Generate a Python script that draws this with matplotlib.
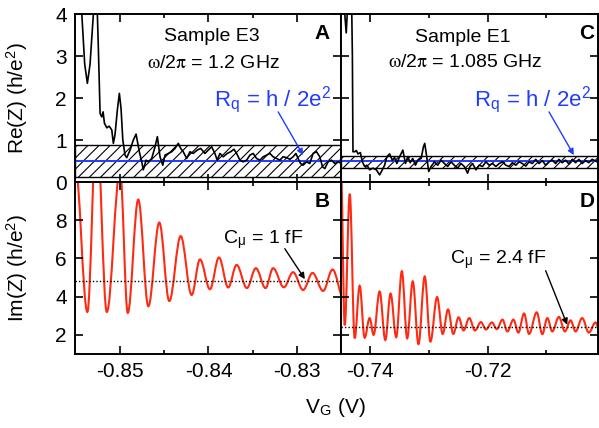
import matplotlib
matplotlib.use('Agg')
import matplotlib.pyplot as plt
from matplotlib.path import Path
from matplotlib.patches import PathPatch

plt.rcParams['font.family'] = ['Liberation Sans', 'DejaVu Sans']
plt.rcParams['mathtext.fontset'] = 'stix'
plt.rcParams['axes.unicode_minus'] = False
plt.rcParams['hatch.linewidth'] = 0.8

# ---- panel A : Re(Z), sample E3
vg_a = [-0.8551, -0.85433, -0.85400, -0.85370, -0.85340, -0.85302, -0.85283, -0.85271,
        -0.85245, -0.85226, -0.85207, -0.85192, -0.85177, -0.85150, -0.85124, -0.85094,
        -0.85076, -0.85057, -0.85031, -0.85008, -0.84989, -0.84969, -0.84944, -0.84924,
        -0.84887, -0.84850, -0.84819, -0.84782, -0.84755, -0.84737, -0.84706, -0.84680,
        -0.84642, -0.84604, -0.84578, -0.84548, -0.84517, -0.84491, -0.84454, -0.84416,
        -0.84378, -0.84341, -0.84314, -0.84285, -0.84246, -0.84209, -0.84172, -0.84127,
        -0.84088, -0.84040, -0.84002, -0.83964, -0.83927, -0.83901, -0.83870, -0.83833,
        -0.83788, -0.83749, -0.83712, -0.83681, -0.83644, -0.83607, -0.83568, -0.83531,
        -0.83494, -0.83455, -0.83418, -0.83381, -0.83342, -0.83305, -0.83268, -0.83229,
        -0.83192, -0.83155, -0.83116, -0.83079, -0.83042, -0.83011, -0.82985, -0.82958,
        -0.82929, -0.82890, -0.82853, -0.82816, -0.82777, -0.82740, -0.82709, -0.82683,
        -0.82646, -0.82608, -0.82570, -0.82533, -0.82495]
re_a = [5.0, 4.0, 2.8, 2.35, 2.8, 4.0, 5.0, 5.0,
        3.14, 1.63, 1.55, 1.67, 1.40, 1.29, 1.33, 1.24,
        0.92, 1.13, 1.71, 2.11, 1.75, 1.0, 0.64, 0.58,
        0.76, 1.0, 1.14, 0.72, 0.48, 0.29, 0.52, 0.48,
        0.56, 0.84, 1.08, 0.60, 0.40, 0.64, 0.68, 0.72,
        0.80, 0.92, 0.80, 0.72, 0.56, 0.72, 0.68, 0.76,
        0.80, 0.68, 0.76, 0.84, 0.68, 0.52, 0.68, 0.60,
        0.68, 0.72, 0.78, 0.68, 0.52, 0.48, 0.52, 0.64,
        0.68, 0.56, 0.52, 0.60, 0.64, 0.68, 0.60, 0.56,
        0.52, 0.60, 0.58, 0.54, 0.60, 0.68, 0.56, 0.44,
        0.40, 0.48, 0.44, 0.68, 0.72, 0.60, 0.36, 0.32,
        0.48, 0.52, 0.44, 0.48, 0.44]

# ---- panel C : Re(Z), sample E1
vg_c = [-0.74504, -0.74436, -0.74411, -0.74394, -0.74385, -0.74326, -0.74306, -0.74296,
        -0.74267, -0.74238, -0.74211, -0.74170, -0.74136, -0.74097, -0.74058, -0.74012,
        -0.73956, -0.73898, -0.73842, -0.73796, -0.73757, -0.73718, -0.73672, -0.73626,
        -0.73587, -0.73548, -0.73502, -0.73446, -0.73401, -0.73362, -0.73321, -0.73277,
        -0.73231, -0.73192, -0.73134, -0.73095, -0.73073, -0.73039, -0.73005, -0.72964,
        -0.72908, -0.72852, -0.72794, -0.72738, -0.72682, -0.72625, -0.72569, -0.72513,
        -0.72455, -0.72399, -0.72343, -0.72302, -0.72258, -0.72200, -0.72144, -0.72088,
        -0.72030, -0.71974, -0.71918, -0.71860, -0.71804, -0.71748, -0.71691, -0.71635,
        -0.71579, -0.71521, -0.71465, -0.71409, -0.71351, -0.71295, -0.71239, -0.71181,
        -0.71125, -0.71069, -0.71012, -0.70955, -0.70899, -0.70842, -0.70786, -0.70730,
        -0.70672, -0.70616, -0.70560, -0.70502, -0.70446, -0.70390, -0.70332, -0.70276,
        -0.70220, -0.70135]
re_c = [5.0, 4.0, 3.55, 4.0, 5.0, 5.0, 3.0, 0.72,
        0.72, 0.75, 0.67, 0.70, 0.48, 0.37, 0.40, 0.29,
        0.33, 0.29, 0.17, 0.29, 0.40, 0.60, 0.67, 0.52,
        0.58, 0.44, 0.60, 0.76, 0.44, 0.60, 0.46, 0.56,
        0.40, 0.52, 0.56, 0.84, 0.92, 0.60, 0.25, 0.37,
        0.48, 0.40, 0.52, 0.44, 0.37, 0.48, 0.40, 0.33,
        0.44, 0.37, 0.21, 0.37, 0.44, 0.29, 0.40, 0.37,
        0.48, 0.40, 0.44, 0.37, 0.44, 0.48, 0.40, 0.37,
        0.46, 0.40, 0.48, 0.44, 0.38, 0.48, 0.44, 0.54,
        0.44, 0.51, 0.40, 0.48, 0.52, 0.44, 0.54, 0.46,
        0.52, 0.43, 0.54, 0.46, 0.54, 0.44, 0.51, 0.46,
        0.54, 0.48]

# ---- panel B : Im(Z), sample E3 (extrema of the oscillation)
vg_b = [-0.85509, -0.85370, -0.85266, -0.85150, -0.85000, -0.84913, -0.84794, -0.84680,
        -0.84556, -0.84443, -0.84314, -0.84190, -0.84096, -0.83983, -0.83881, -0.83776,
        -0.83681, -0.83565, -0.83463, -0.83354, -0.83268, -0.83147, -0.83042, -0.82929,
        -0.82822, -0.82702, -0.82596, -0.82469]
im_b = [11.0, 3.2, 13.0, 3.2, 10.6, 3.15, 9.08, 3.5,
        7.88, 3.77, 7.17, 4.09, 5.95, 4.39, 6.05, 4.48,
        5.66, 4.45, 5.49, 4.45, 5.49, 4.49, 5.28, 4.35,
        5.24, 4.30, 5.42, 3.9]

# ---- panel D : Im(Z), sample E1 (extrema of the oscillation)
vg_d = [-0.74504, -0.74436, -0.74351, -0.74267, -0.74182, -0.74097, -0.74012, -0.73944,
        -0.73842, -0.73745, -0.73655, -0.73559, -0.73463, -0.73372, -0.73277, -0.73180,
        -0.73073, -0.72976, -0.72862, -0.72767, -0.72676, -0.72586, -0.72496, -0.72411,
        -0.72314, -0.72217, -0.72115, -0.72030, -0.71928, -0.71844, -0.71748, -0.71664,
        -0.71562, -0.71477, -0.71380, -0.71295, -0.71164, -0.71069, -0.70984, -0.70899,
        -0.70786, -0.70684, -0.70587, -0.70502, -0.70390, -0.70276, -0.70162, -0.70100]
im_d = [11.0, 2.5, 9.38, 1.82, 4.57, 1.85, 2.88, 2.0,
        4.27, 1.73, 4.16, 1.88, 5.33, 1.82, 4.80, 1.52,
        5.06, 1.65, 3.98, 2.05, 3.33, 2.05, 2.92, 2.23,
        2.88, 2.23, 2.67, 2.28, 2.65, 2.30, 2.80, 2.18,
        2.80, 2.12, 3.12, 2.05, 3.18, 2.04, 2.88, 2.18,
        2.94, 2.18, 2.76, 2.18, 2.88, 2.12, 2.65, 2.3]

rq = 0.5
band_a = (0.125, 0.875)
band_c = (0.33, 0.63)
cmu_b = 4.8
cmu_d = 2.4

red = '#ff2a12'
blue = '#1f3cff'


def smooth(xs, ys, k=0.36):
    # bezier through the extrema, flat tangent at each one
    verts = [(xs[0], ys[0])]
    codes = [Path.MOVETO]
    for i in range(len(xs) - 1):
        dx = xs[i + 1] - xs[i]
        verts += [(xs[i] + k * dx, ys[i]), (xs[i + 1] - k * dx, ys[i + 1]), (xs[i + 1], ys[i + 1])]
        codes += [Path.CURVE4] * 3
    return Path(verts, codes)


fig = plt.figure(figsize=(5.99, 4.28), dpi=100)
L, M, R = 75 / 599, 341 / 599, 598 / 599
T, H, B = 1 - 14 / 428, 1 - 182 / 428, 1 - 354 / 428
ax_a = fig.add_axes([L, H, M - L, T - H])
ax_c = fig.add_axes([M, H, R - M, T - H])
ax_b = fig.add_axes([L, B, M - L, H - B])
ax_d = fig.add_axes([M, B, R - M, H - B])

for ax in (ax_a, ax_b, ax_c, ax_d):
    for s in ax.spines.values():
        s.set_linewidth(1.4)
    ax.tick_params(which='both', direction='in', top=True, right=True, width=1.2,
                   labelsize=15, pad=6)
    ax.tick_params(which='major', length=5.5)
    ax.tick_params(which='minor', length=3)

for ax in (ax_a, ax_b):
    ax.set_xlim(-0.8551, -0.8250)
    ax.set_xticks([-0.85, -0.84, -0.83])
    ax.set_xticks([-0.845, -0.835, -0.825], minor=True)
for ax in (ax_c, ax_d):
    ax.set_xlim(-0.7450, -0.7012)
    ax.set_xticks([-0.74, -0.72])
    ax.set_xticks([-0.73, -0.71], minor=True)
for ax in (ax_a, ax_c):
    ax.set_ylim(0, 4)
    ax.set_yticks([0, 1, 2, 3, 4])
    ax.tick_params(labelbottom=False)
for ax in (ax_b, ax_d):
    ax.set_ylim(1, 10)
    ax.set_yticks([2, 4, 6, 8])
ax_c.tick_params(labelleft=False)
ax_d.tick_params(labelleft=False)

# Re(Z) panels
ax_a.axhspan(*band_a, facecolor='none', edgecolor='k', hatch='///', lw=1.0)
ax_c.axhspan(*band_c, facecolor='none', edgecolor='k', hatch='///', lw=1.0)
ax_a.axhline(rq, color=blue, lw=1.4)
ax_c.axhline(rq, color=blue, lw=1.4)
ax_a.plot(vg_a, re_a, color='k', lw=1.2)
ax_c.plot(vg_c, re_c, color='k', lw=1.2)

# Im(Z) panels
ax_b.axhline(cmu_b, color='k', lw=1.0, ls=(0, (1, 1.5)))
ax_d.axhline(cmu_d, color='k', lw=1.0, ls=(0, (1, 1.5)))
ax_b.add_patch(PathPatch(smooth(vg_b, im_b), fill=False, edgecolor=red, lw=1.5))
ax_d.add_patch(PathPatch(smooth(vg_d, im_d), fill=False, edgecolor=red, lw=1.5))

ax_a.set_ylabel('Re(Z) (h/e$^\\mathregular{2}$)', fontsize=15)
ax_a.yaxis.set_label_coords(-0.17, 0.5)
ax_b.set_ylabel('Im(Z) (h/e$^\\mathregular{2}$)', fontsize=15)
ax_b.yaxis.set_label_coords(-0.17, 0.5)
fig.text(0.56, 0.047, 'V$_\\mathregular{G}$ (V)', fontsize=15, ha='center', va='center')

kw = dict(ha='center', va='center', fontsize=14)
omega = '$\\mathrm{\\omega}$/2$\\mathrm{\\pi}$'
ax_a.text(0.514, 0.865, 'Sample E3', transform=ax_a.transAxes, **kw)
ax_a.text(0.519, 0.708, omega + ' = 1.2 GHz', transform=ax_a.transAxes, **kw)
ax_c.text(0.475, 0.863, 'Sample E1', transform=ax_c.transAxes, **kw)
ax_c.text(0.482, 0.714, omega + ' = 1.085 GHz', transform=ax_c.transAxes, **kw)

for ax, lab in ((ax_a, 'A'), (ax_c, 'C'), (ax_b, 'B'), (ax_d, 'D')):
    fx = 0.93 if ax in (ax_a, ax_b) else 0.956
    ax.text(fx, 0.885, lab, transform=ax.transAxes, ha='center', va='center',
            fontsize=15, fontweight='bold')

rq_txt = 'R$_\\mathregular{q}$ = h / 2e$^\\mathregular{2}$'
arr_b = dict(arrowstyle='-|>', color=blue, lw=1.0, mutation_scale=9, shrinkA=0, shrinkB=0)
ax_a.annotate('', xy=(-0.82929, 0.64), xytext=(-0.83211, 1.67), arrowprops=arr_b)
ax_a.text(0.744, 0.49, rq_txt, transform=ax_a.transAxes, color=blue, ha='center',
          va='center', fontsize=16)
ax_c.annotate('', xy=(-0.70531, 0.64), xytext=(-0.70955, 1.67), arrowprops=arr_b)
ax_c.text(0.747, 0.49, rq_txt, transform=ax_c.transAxes, color=blue, ha='center',
          va='center', fontsize=16)

arr_k = dict(arrowstyle='-|>', color='k', lw=1.0, mutation_scale=9, shrinkA=0, shrinkB=0)
ax_b.annotate('', xy=(-0.82909, 4.92), xytext=(-0.83136, 6.51), arrowprops=arr_k)
ax_b.text(0.707, 0.663, 'C$_\\mathregular{μ}$ = 1 fF', transform=ax_b.transAxes, **kw)
ax_d.annotate('', xy=(-0.70645, 2.53), xytext=(-0.71012, 5.36), arrowprops=arr_k)
ax_d.text(0.611, 0.547, 'C$_\\mathregular{μ}$ = 2.4 fF', transform=ax_d.transAxes, **kw)

plt.savefig('out.png', dpi=100)
